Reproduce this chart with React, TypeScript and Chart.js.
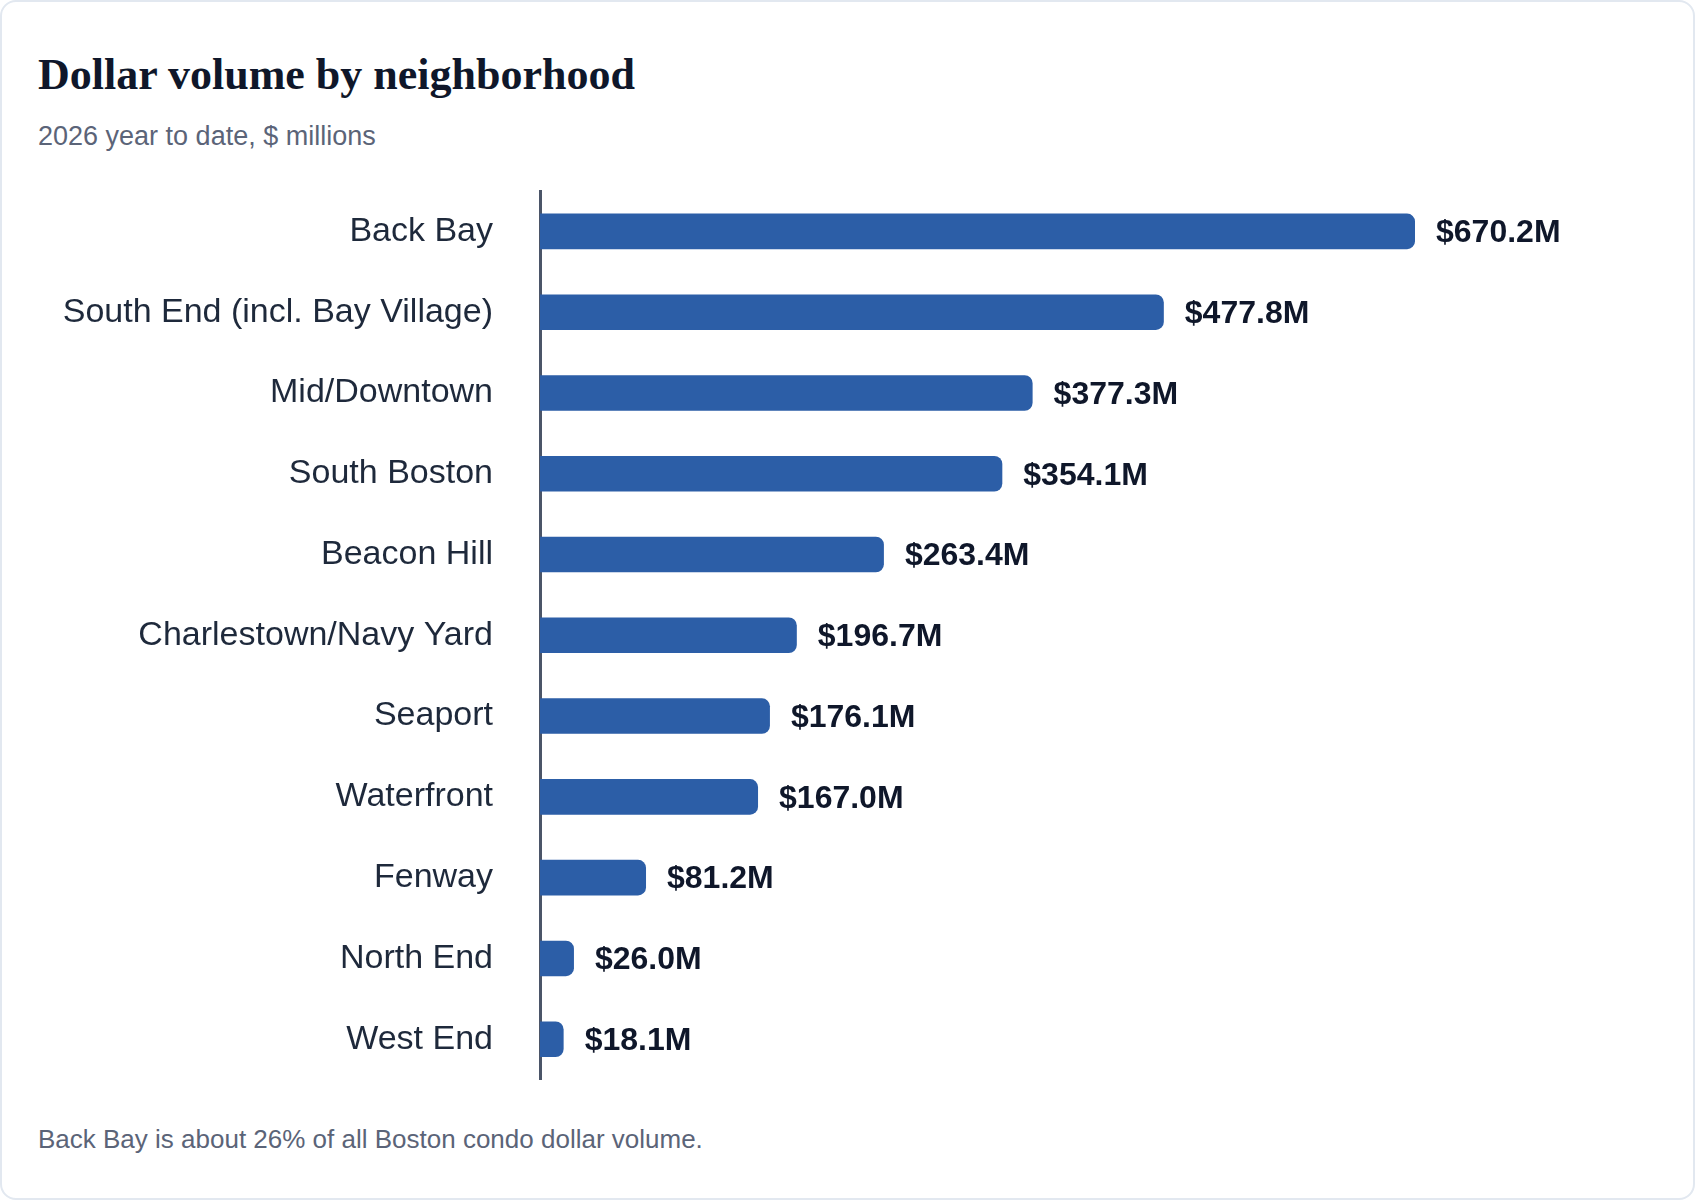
import React, { useEffect, useRef } from 'react';
import { Chart, registerables } from 'chart.js';

Chart.register(...registerables);

// Data
const neighborhoods = [
  'Back Bay',
  'South End (incl. Bay Village)',
  'Mid/Downtown',
  'South Boston',
  'Beacon Hill',
  'Charlestown/Navy Yard',
  'Seaport',
  'Waterfront',
  'Fenway',
  'North End',
  'West End'
];
const volumeMillions = [670.2, 477.8, 377.3, 354.1, 263.4, 196.7, 176.1, 167.0, 81.2, 26.0, 18.1];

const SANS = '"Liberation Sans", Arial, sans-serif';
const SERIF = '"Liberation Serif", "Times New Roman", serif';

// value labels at the end of each bar
const valueLabels = {
  id: 'valueLabels',
  afterDatasetsDraw(chart: Chart) {
    const { ctx } = chart;
    const meta = chart.getDatasetMeta(0);
    ctx.save();
    ctx.font = `bold 32px ${SANS}`;
    ctx.fillStyle = '#0f172a';
    ctx.textAlign = 'left';
    ctx.textBaseline = 'middle';
    meta.data.forEach((bar: any, i: number) => {
      const v = volumeMillions[i];
      ctx.fillText(`$${v.toFixed(1)}M`, bar.x + 21, bar.y + 2);
    });
    ctx.restore();
  }
};

const App: React.FC = () => {
  const canvasRef = useRef<HTMLCanvasElement>(null);

  useEffect(() => {
    const ctx = canvasRef.current?.getContext('2d');
    if (!ctx) return;

    const chart = new Chart(ctx, {
      type: 'bar',
      data: {
        labels: neighborhoods,
        datasets: [
          {
            data: volumeMillions,
            backgroundColor: '#2c5ea7',
            borderRadius: 8,
            borderSkipped: 'start',
            barPercentage: 0.44,
            categoryPercentage: 1
          }
        ]
      },
      options: {
        indexAxis: 'y',
        responsive: true,
        maintainAspectRatio: false,
        animation: false,
        layout: {
          padding: { top: 41, bottom: 19, left: 0, right: 111.5 }
        },
        plugins: {
          legend: { display: false },
          tooltip: { enabled: false }
        },
        scales: {
          x: {
            display: false,
            min: 0,
            max: 800
          },
          y: {
            afterFit: (axis: any) => {
              axis.width = 540;
            },
            // tick marks hidden; tickLength only spaces labels from the axis line
            grid: { display: false, drawTicks: true, tickLength: 47 },
            border: { display: true, color: '#4b5568', width: 3 },
            ticks: {
              padding: 0,
              color: '#1e293b',
              font: { family: SANS, size: 34 }
            }
          }
        }
      },
      plugins: [valueLabels]
    });

    return () => {
      chart.destroy();
    };
  }, []);

  return (
    <div
      style={{
        position: 'absolute',
        left: 0,
        top: 0,
        width: 1696,
        height: 1200,
        background: '#fff',
        overflow: 'hidden'
      }}
    >
      <div
        style={{
          position: 'absolute',
          left: 0,
          top: 0,
          width: 1695,
          height: 1200,
          boxSizing: 'border-box',
          border: '2px solid #e2e8f0',
          borderRadius: 16
        }}
      />
      <div
        style={{
          position: 'absolute',
          left: 38,
          top: 53,
          fontFamily: SERIF,
          fontWeight: 'bold',
          fontSize: 44,
          lineHeight: '44px',
          color: '#0f172a',
          whiteSpace: 'nowrap'
        }}
      >
        Dollar volume by neighborhood
      </div>
      <div
        style={{
          position: 'absolute',
          left: 38,
          top: 123,
          fontFamily: SANS,
          fontSize: 27,
          lineHeight: '27px',
          color: '#5b6478',
          whiteSpace: 'nowrap'
        }}
      >
        2026 year to date, $ millions
      </div>
      <div style={{ position: 'absolute', left: 0, top: 150, width: 1696, height: 950 }}>
        <canvas ref={canvasRef} />
      </div>
      <div
        style={{
          position: 'absolute',
          left: 38,
          top: 1126,
          fontFamily: SANS,
          fontSize: 26,
          lineHeight: '26px',
          color: '#5b6478',
          whiteSpace: 'nowrap'
        }}
      >
        Back Bay is about 26% of all Boston condo dollar volume.
      </div>
    </div>
  );
};

export default App;
